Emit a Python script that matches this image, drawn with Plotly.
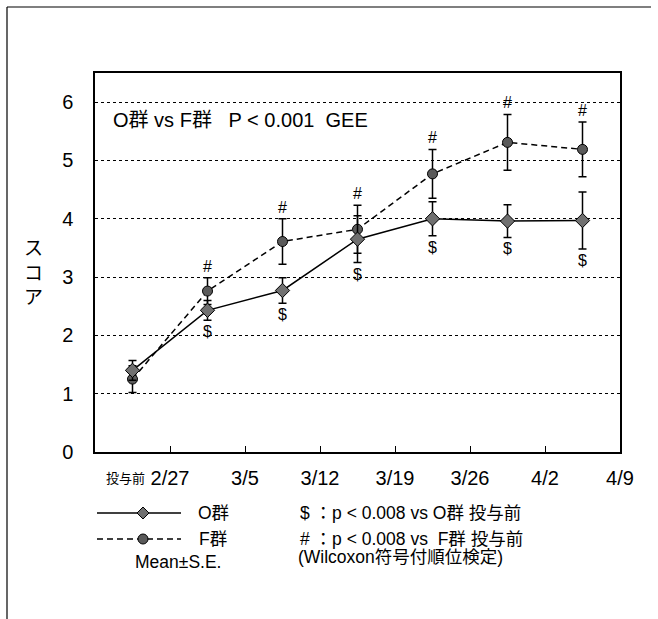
import plotly.graph_objects as go

# Visits (category index) and weekly boundary labels
visit = [1, 2, 3, 4, 5, 6, 7]
week_ticks = [1.5, 2.5, 3.5, 4.5, 5.5, 6.5, 7.5]
week_labels = ["2/27", "3/5", "3/12", "3/19", "3/26", "4/2", "4/9"]
baseline_label = "投与前"

# O群: mean score and standard error
o_mean = [1.40, 2.43, 2.77, 3.65, 4.00, 3.96, 3.97]
o_se = [0.17, 0.17, 0.22, 0.40, 0.29, 0.28, 0.49]
o_sig = [False, True, True, True, True, True, True]

# F群: mean score and standard error
f_mean = [1.25, 2.76, 3.61, 3.82, 4.77, 5.31, 5.19]
f_se = [0.23, 0.23, 0.39, 0.41, 0.42, 0.48, 0.47]
f_sig = [False, True, True, True, True, True, True]

FONT = "Liberation Sans, Arial, Noto Sans CJK JP, sans-serif"

W, H = 658, 619
L, R, T, B = 95, 38, 73, 167
PW, PH = W - L - R, H - T - B


def px(x):
    return (x - L) / PW


def py(y):
    return (H - B - y) / PH


fig = go.Figure()

fig.add_trace(go.Scatter(
    x=visit, y=f_mean, name="F群", mode="lines+markers",
    line=dict(color="black", width=1.5, dash="6px,4px"),
    marker=dict(symbol="circle", size=10, color="#5a5a5a",
                line=dict(color="black", width=1)),
    error_y=dict(type="data", array=f_se, color="black", thickness=1.5, width=4),
    showlegend=False,
))
fig.add_trace(go.Scatter(
    x=visit, y=o_mean, name="O群", mode="lines+markers",
    line=dict(color="black", width=1.5),
    marker=dict(symbol="diamond", size=11, color="#707070",
                line=dict(color="black", width=1)),
    error_y=dict(type="data", array=o_se, color="black", thickness=1.5, width=4),
    showlegend=False,
))

annotations = []
# significance markers
for xv, m, s, sig in zip(visit, f_mean, f_se, f_sig):
    if sig:
        annotations.append(dict(x=xv, y=m + s, xref="x", yref="y", text="#",
                                showarrow=False, yanchor="bottom", yshift=1,
                                font=dict(size=16, family=FONT, color="black")))
for xv, m, s, sig in zip(visit, o_mean, o_se, o_sig):
    if sig:
        annotations.append(dict(x=xv, y=m - s, xref="x", yref="y", text="$",
                                showarrow=False, yanchor="top", yshift=-1,
                                font=dict(size=16, family=FONT, color="black")))

# title inside the plot
annotations.append(dict(x=px(111), y=py(120), xref="paper", yref="paper",
                        text="O群 vs F群   P < 0.001  GEE", showarrow=False,
                        xanchor="left", yanchor="middle",
                        font=dict(size=20, family=FONT, color="black")))
# baseline label on x axis
annotations.append(dict(x=0.9, y=py(478), xref="x", yref="paper",
                        text=baseline_label, showarrow=False,
                        xanchor="center", yanchor="middle",
                        font=dict(size=13, family=FONT, color="black")))
# vertical axis title
annotations.append(dict(x=px(33), y=py(273), xref="paper", yref="paper",
                        text="ス<br>コ<br>ア", showarrow=False,
                        xanchor="center", yanchor="middle",
                        font=dict(size=19, family=FONT, color="black")))

# legend texts
legend_font = dict(size=17.5, family=FONT, color="black")
annotations += [
    dict(x=px(196), y=py(513), text="O群", xanchor="left"),
    dict(x=px(197), y=py(539), text="F群", xanchor="left"),
    dict(x=px(178), y=py(562), text="Mean±S.E.", xanchor="center"),
    dict(x=px(298), y=py(513), text="$ ：p < 0.008 vs O群 投与前", xanchor="left"),
    dict(x=px(298), y=py(539), text="# ：p < 0.008 vs  F群 投与前", xanchor="left"),
    dict(x=px(296), y=py(557), text="(Wilcoxon符号付順位検定)", xanchor="left"),
]
for a in annotations[-6:]:
    a.update(xref="paper", yref="paper", showarrow=False, yanchor="middle",
             font=legend_font)

shapes = []
# outer frame (left and top edges)
shapes.append(dict(type="line", xref="paper", yref="paper",
                   x0=px(7), x1=px(7), y0=py(7), y1=py(619),
                   line=dict(color="black", width=1.2)))
shapes.append(dict(type="line", xref="paper", yref="paper",
                   x0=px(7), x1=px(651), y0=py(7), y1=py(7),
                   line=dict(color="black", width=1.2)))
# legend keys
shapes.append(dict(type="line", xref="paper", yref="paper",
                   x0=px(97), x1=px(181), y0=py(513), y1=py(513),
                   line=dict(color="black", width=1.5)))
shapes.append(dict(type="line", xref="paper", yref="paper",
                   x0=px(97), x1=px(181), y0=py(539), y1=py(539),
                   line=dict(color="black", width=1.5, dash="6px,4px")))
cx, d = 143, 6
shapes.append(dict(type="path", xref="paper", yref="paper",
                   path=f"M{px(cx - d)},{py(513)} L{px(cx)},{py(513 - d)} "
                        f"L{px(cx + d)},{py(513)} L{px(cx)},{py(513 + d)} Z",
                   fillcolor="#707070", line=dict(color="black", width=1)))
shapes.append(dict(type="circle", xref="paper", yref="paper",
                   x0=px(cx - 5), x1=px(cx + 5), y0=py(539 + 5), y1=py(539 - 5),
                   fillcolor="#5a5a5a", line=dict(color="black", width=1)))

fig.update_layout(
    width=W, height=H,
    margin=dict(l=L, r=R, t=T, b=B),
    paper_bgcolor="white", plot_bgcolor="white",
    font=dict(family=FONT, color="black"),
    annotations=annotations, shapes=shapes,
    showlegend=False,
)
fig.update_xaxes(
    range=[0.5, 7.5], tickmode="array", tickvals=week_ticks, ticktext=week_labels,
    ticks="inside", ticklen=6, tickwidth=1.2, tickcolor="black",
    showline=True, mirror=True, linecolor="black", linewidth=1.5,
    showgrid=False, zeroline=False, tickfont=dict(size=20, family=FONT),
    ticklabelstandoff=7,
)
fig.update_yaxes(
    range=[0, 6.5], tickmode="array", tickvals=[0, 1, 2, 3, 4, 5, 6],
    ticks="", showline=True, mirror=True, linecolor="black", linewidth=1.5,
    showgrid=True, gridcolor="black", gridwidth=1, griddash="3px,3px",
    zeroline=False, tickfont=dict(size=20, family=FONT), ticklabelstandoff=16,
)

fig.write_html("out.html")
